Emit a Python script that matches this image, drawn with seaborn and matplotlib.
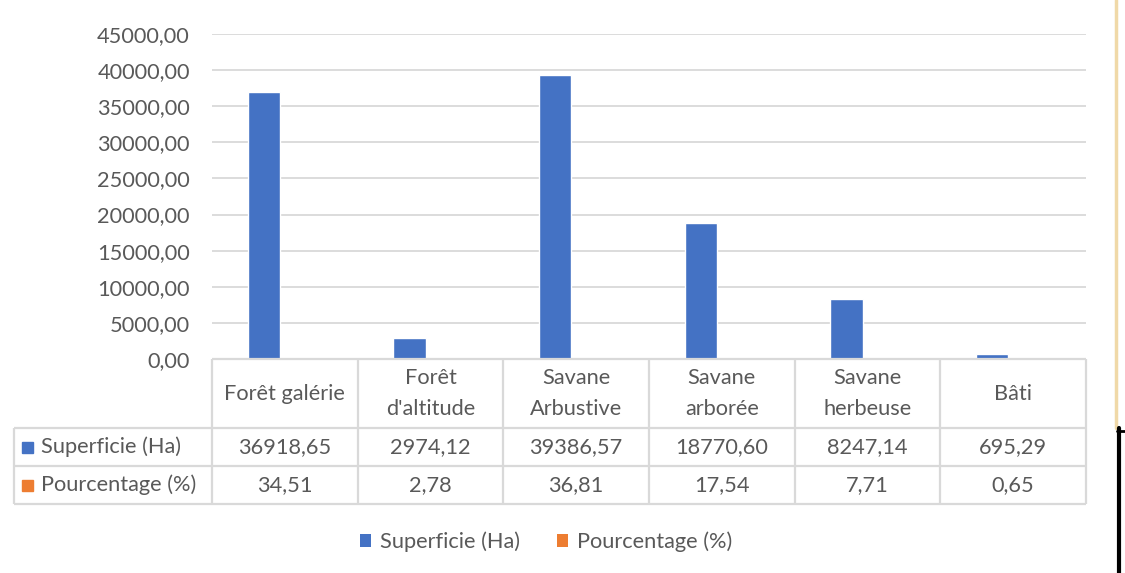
import matplotlib
matplotlib.use("Agg")
import matplotlib.pyplot as plt
from matplotlib.patches import Patch
import seaborn as sns
import pandas as pd

categories = ["Forêt galérie", "Forêt\nd'altitude", "Savane\nArbustive",
              "Savane\narborée", "Savane\nherbeuse", "Bâti"]
superficie = [36918.65, 2974.12, 39386.57, 18770.60, 8247.14, 695.29]
pourcentage = [34.51, 2.78, 36.81, 17.54, 7.71, 0.65]
series = ["Superficie (Ha)", "Pourcentage (%)"]
colors = {"Superficie (Ha)": "#4472C4", "Pourcentage (%)": "#ED7D31"}
yticks = [0, 5000, 10000, 15000, 20000, 25000, 30000, 35000, 40000, 45000]

sns.set_theme(style="white")
plt.rcParams["font.family"] = ["Lato", "DejaVu Sans"]
TXT = "#595959"
GRID = "#d9d9d9"
FS = 15.7

W, H = 1125, 573
fig = plt.figure(figsize=(W / 100, H / 100), dpi=100)
fig.patch.set_facecolor("white")

x0, x1, ytop, ybot = 212, 1086, 34, 359
ax = fig.add_axes([x0 / W, 1 - ybot / H, (x1 - x0) / W, (ybot - ytop) / H])

df = pd.DataFrame({
    "cat": categories * 2,
    "val": superficie + pourcentage,
    "serie": [series[0]] * len(categories) + [series[1]] * len(categories),
})
sns.barplot(data=df, x="cat", y="val", hue="serie", order=categories,
            hue_order=series, palette=colors, width=0.446, saturation=1,
            errorbar=None, ax=ax, legend=False)

d = 0.033
ax.set_xlim(-0.5 + d, 5.5 + d)
ax.set_ylim(0, 45000)
ax.set_yticks(yticks)
ax.set_yticklabels([f"{v:.2f}".replace(".", ",") for v in yticks],
                   color=TXT, fontsize=FS)
ax.tick_params(axis="y", length=0, pad=16)
ax.set_xticks([])
ax.set_xlabel("")
ax.set_ylabel("")
for s in ax.spines.values():
    s.set_visible(False)
ax.yaxis.grid(True, color=GRID, linewidth=1.3)
ax.set_axisbelow(True)

# data table
tax = fig.add_axes([0, 0, 1, 1], zorder=5)
tax.set_xlim(0, W)
tax.set_ylim(H, 0)
tax.axis("off")
lc = dict(color=GRID, linewidth=1.6, solid_capstyle="butt")
colw = (x1 - x0) / len(categories)
r0, r1, r2, r3 = 359, 428, 466, 504
tax.plot([x0, x1], [r0, r0], **lc)
for yy in (r1, r2, r3):
    tax.plot([14, x1], [yy, yy], **lc)
for k in range(len(categories) + 1):
    xx = x0 + k * colw
    tax.plot([xx, xx], [r0, r3], **lc)
tax.plot([14, 14], [r1, r3], **lc)

for i, c in enumerate(categories):
    cx = x0 + (i + 0.5) * colw
    tax.text(cx, (r0 + r1) / 2, c, ha="center", va="center", color=TXT,
             fontsize=FS, linespacing=1.65)
    tax.text(cx, (r1 + r2) / 2, f"{superficie[i]:.2f}".replace(".", ","),
             ha="center", va="center", color=TXT, fontsize=FS)
    tax.text(cx, (r2 + r3) / 2, f"{pourcentage[i]:.2f}".replace(".", ","),
             ha="center", va="center", color=TXT, fontsize=FS)

for (ya, yb), s in zip([(r1, r2), (r2, r3)], series):
    ym = (ya + yb) / 2
    tax.add_patch(plt.Rectangle((22, ym - 5.5), 11, 11, color=colors[s]))
    tax.text(41, ym, s, ha="left", va="center", color=TXT, fontsize=FS)

# legend
handles = [Patch(facecolor=colors[s], edgecolor="none", label=s) for s in series]
leg = fig.legend(handles=handles, loc="center", bbox_to_anchor=(546 / W, 1 - 542 / H),
                 ncol=2, frameon=False, fontsize=FS, handlelength=0.5,
                 handleheight=0.5, handletextpad=0.4, columnspacing=1.7)
for t in leg.get_texts():
    t.set_color(TXT)

# right-edge artifacts
tax.plot([1116, 1116], [0, 428], color="#f0d9a8", linewidth=2.5)
tax.plot([1119, 1119], [428, H], color="black", linewidth=3)
tax.plot([1117, 1125], [431, 431], color="black", linewidth=2)

fig.savefig("out.png", dpi=100)
